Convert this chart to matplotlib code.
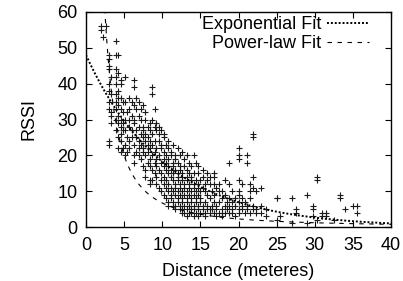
import numpy as np
import matplotlib
matplotlib.use("Agg")
import matplotlib.pyplot as plt

plt.rcParams['font.family'] = ['Liberation Sans', 'DejaVu Sans']

# measured samples, written column by column: (distance in metres, RSSI values)
d_list = []
r_list = []
samples = [
    (2.0, [56, 55]), (2.2, [53]), (2.6, [56]),
    (3.0, [48, 47, 45, 44, 40, 38, 35, 33, 24, 23]),
    (3.3, [42, 37, 32, 31, 29]),
    (3.9, [52, 48, 44, 42, 40, 37, 35, 33, 30, 27]),
    (4.2, [48, 43, 38, 36, 34, 31, 29, 25, 22]),
    (4.6, [41, 40, 36, 33, 30, 28, 26, 24, 21]),
    (4.9, [35, 32, 29, 27, 22]),
    (5.1, [42, 35, 30, 27, 23, 20]),
    (5.4, [32, 25, 21]),
    (5.7, [36, 33, 30, 28, 24, 22]),
    (6.0, [35, 31, 27, 25]),
    (6.3, [41, 39, 34, 30, 29, 23, 20, 18]),
    (6.6, [36, 33, 27, 25, 21]),
    (6.9, [35, 31, 28, 24, 22, 20]),
    (7.2, [33, 30, 26, 23, 19]),
    (7.5, [34, 28, 27, 25, 22, 21, 17]),
    (7.8, [32, 30, 26, 24, 20, 16, 14]),
    (8.1, [28, 25, 23, 21, 18]),
    (8.4, [29, 27, 24, 22, 19, 17, 13, 12]),
    (8.7, [39, 37, 30, 26, 23, 20, 16, 13]),
    (9.0, [33, 28, 24, 21, 18, 15]),
    (9.2, [29, 27, 22, 19, 17, 14, 12]),
    (9.6, [28, 26, 24, 20, 16, 11]),
    (9.9, [27, 23, 22, 18, 15, 13, 10]),
    (10.2, [26, 25, 21, 19, 17, 14, 12, 9]),
    (10.5, [23, 20, 18, 16, 13, 11, 8]),
    (10.8, [24, 22, 19, 17, 15, 12, 10, 7, 6]),
    (11.1, [21, 20, 16, 14, 11, 9, 8]),
    (11.4, [23, 18, 17, 15, 13, 10, 7, 6]),
    (11.7, [20, 19, 16, 12, 11, 9, 6, 5]),
    (12.0, [22, 18, 15, 14, 13, 10, 8, 7]),
    (12.3, [20, 17, 16, 12, 11, 9, 6, 5]),
    (12.6, [21, 15, 14, 13, 10, 8, 7, 5, 4]),
    (12.9, [19, 17, 12, 11, 9, 6, 4]),
    (13.2, [20, 16, 14, 13, 10, 8, 7, 5, 3]),
    (13.5, [18, 15, 12, 11, 9, 6, 4]),
    (13.8, [17, 14, 13, 10, 8, 7, 5, 4]),
    (14.1, [20, 15, 12, 11, 9, 6, 5, 3]),
    (14.4, [18, 13, 10, 8, 7, 4]),
    (14.7, [17, 15, 12, 11, 9, 6, 5, 3]),
    (15.0, [13, 10, 8, 7, 4]),
    (15.3, [16, 14, 11, 6, 5]),
    (15.6, [12, 10, 7, 4, 3]),
    (15.9, [15, 13, 9, 6, 5]),
    (16.2, [14, 12, 8, 5, 4]),
    (16.5, [10, 6, 5]),
    (16.8, [15, 14, 12, 9, 7, 4]),
    (17.1, [11, 6, 5, 3]),
    (17.4, [12, 10, 7, 4]),
    (17.8, [10, 8, 5, 4, 3]),
    (18.2, [13, 9, 6, 4]),
    (18.5, [7, 5]),
    (18.8, [18, 12, 8, 6, 4]),
    (19.2, [10, 7, 5, 4]),
    (19.6, [8, 6, 3]),
    (20.0, [22, 20, 19, 13, 10, 9, 7, 5, 4]),
    (20.4, [12, 8, 6, 5]),
    (20.8, [7, 4]),
    (21.1, [20, 18, 6, 5]),
    (21.5, [12, 10, 8, 4]),
    (21.9, [26, 25, 14, 11, 6, 5]),
    (22.3, [10, 5, 4]),
    (23.0, [11, 6, 4]),
    (23.6, [5, 3]),
    (25.0, [8, 8, 2]),
    (25.5, [3]),
    (27.0, [8, 1]),
    (27.5, [5, 4]),
    (29.0, [9, 1]),
    (29.8, [6, 5, 3]),
    (30.3, [14, 13, 2]),
    (31.0, [4, 3]),
    (31.5, [4, 3]),
    (32.5, [2]),
    (33.3, [9, 8]),
    (34.0, [5]),
    (35.0, [6]),
    (35.5, [6, 4]),
]
for dist, values in samples:
    d_list += [dist] * len(values)
    r_list += values
distance = np.array(d_list)
rssi = np.array(r_list)

# fitted models
exp_a, exp_b = 48.0, 0.0968      # RSSI = a * exp(-b d)
pow_a, pow_n = 252.0, 1.575      # RSSI = a * d^-n

FS = 13

fig = plt.figure(figsize=(4.03, 2.81), dpi=100)
ax = fig.add_axes([86 / 403, 54 / 281, 305 / 403, 215 / 281])

ax.plot(distance, rssi, linestyle='none', marker='+', markersize=3.8,
        markeredgewidth=0.8, color='#1a1a1a', zorder=2)

d_exp = np.linspace(0, 40, 400)
ax.plot(d_exp, exp_a * np.exp(-exp_b * d_exp), color='black',
        linestyle=(0, (1, 1)), linewidth=1.4, label='Exponential Fit', zorder=3)
d_pow = np.linspace(2.35, 40, 400)
ax.plot(d_pow, pow_a * d_pow ** (-pow_n), color='black',
        linestyle=(0, (4, 5)), linewidth=0.8, label='Power-law Fit', zorder=3)

ax.set_xlim(0, 40)
ax.set_ylim(0, 60)
ax.set_xticks(np.arange(0, 41, 5))
ax.set_yticks(np.arange(0, 61, 10))
ax.tick_params(direction='in', top=True, right=True, length=4, width=0.8,
               labelsize=FS, pad=6)
ax.tick_params(axis='x', pad=7)
for s in ax.spines.values():
    s.set_linewidth(1.0)
ax.set_xlabel('Distance (meteres)', fontsize=FS, labelpad=7)
ax.set_ylabel('RSSI', fontsize=FS, labelpad=14)

ax.legend(loc='upper right', bbox_to_anchor=(0.928, 0.98), frameon=False,
          markerfirst=False, fontsize=FS, handlelength=2.33, handletextpad=0.3,
          labelspacing=0.1, borderaxespad=0.0, borderpad=0.0)

fig.savefig('out.png', dpi=100)
